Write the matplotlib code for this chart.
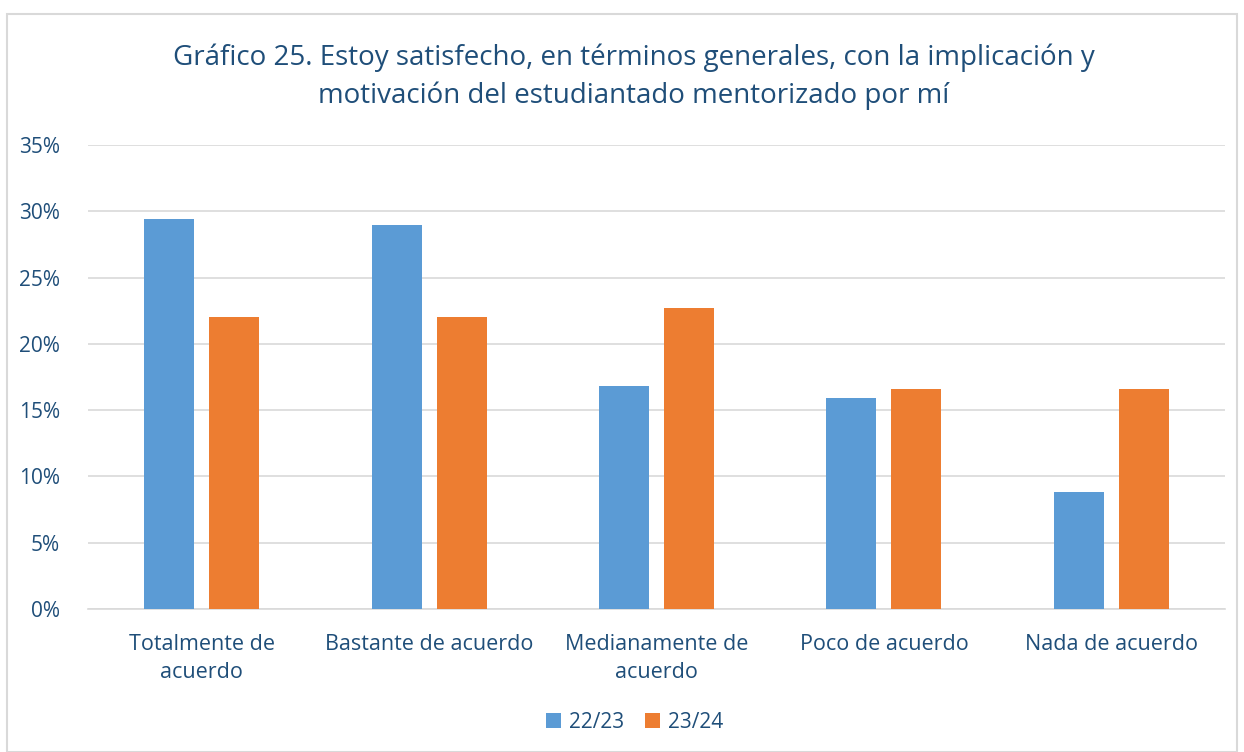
import matplotlib.pyplot as plt
import numpy as np
from matplotlib.patches import FancyBboxPatch
from matplotlib.ticker import PercentFormatter

plt.rcParams['font.family'] = ['Open Sans', 'DejaVu Sans']

categorias = ["Totalmente de\nacuerdo", "Bastante de acuerdo", "Medianamente de\nacuerdo",
              "Poco de acuerdo", "Nada de acuerdo"]
curso_22_23 = [29.4, 29.0, 16.8, 15.9, 8.8]
curso_23_24 = [22.0, 22.0, 22.7, 16.6, 16.6]
series = ["22/23", "23/24"]

azul = "#5B9BD5"
naranja = "#ED7D31"
texto = "#1F4E79"

fig = plt.figure(figsize=(12.44, 7.52), dpi=100)
# marco del grafico
fig.patches.append(FancyBboxPatch((7 / 1244, 0), 1 - 14 / 1244, 1 - 14 / 752,
                                  boxstyle="square,pad=0", transform=fig.transFigure,
                                  fill=False, edgecolor="#D9D9D9", linewidth=1.5))

ax = fig.add_axes([88 / 1244, 1 - 609 / 752, (1225 - 88) / 1244, (609 - 145) / 752])
x = np.arange(len(categorias))
w = 0.22
ax.bar(x - 0.143, curso_22_23, w, color=azul, label=series[0], zorder=3)
ax.bar(x + 0.143, curso_23_24, w, color=naranja, label=series[1], zorder=3)

ax.set_xlim(-0.5, len(categorias) - 0.5)
ax.set_ylim(0, 35)
ax.set_yticks(np.arange(0, 36, 5))
ax.yaxis.set_major_formatter(PercentFormatter(decimals=0))
ax.grid(axis="y", color="#D9D9D9", linewidth=1.2, zorder=0)
for s in ["top", "right", "left"]:
    ax.spines[s].set_visible(False)
ax.spines["bottom"].set_color("#D9D9D9")
ax.spines["bottom"].set_linewidth(1.2)
ax.tick_params(length=0, labelsize=15.5, colors=texto)
ax.tick_params(axis="y", pad=20, labelsize=15)
ax.tick_params(axis="x", pad=18)
ax.set_xticks(x)
ax.set_xticklabels(categorias, linespacing=1.45)

fig.text(634 / 1244, 1 - 77 / 752, "Gráfico 25. Estoy satisfecho, en términos generales, con la implicación y\n"
         "motivación del estudiantado mentorizado por mí", ha="center", va="center",
         fontsize=20, color=texto, linespacing=1.45)

fig.legend(loc="center", bbox_to_anchor=(635 / 1244, 1 - 722 / 752), ncol=2, frameon=False,
           fontsize=15, labelcolor=texto, handlelength=0.7, handleheight=0.7,
           handletextpad=0.4, columnspacing=1.0)

fig.savefig("out.png", dpi=100)
